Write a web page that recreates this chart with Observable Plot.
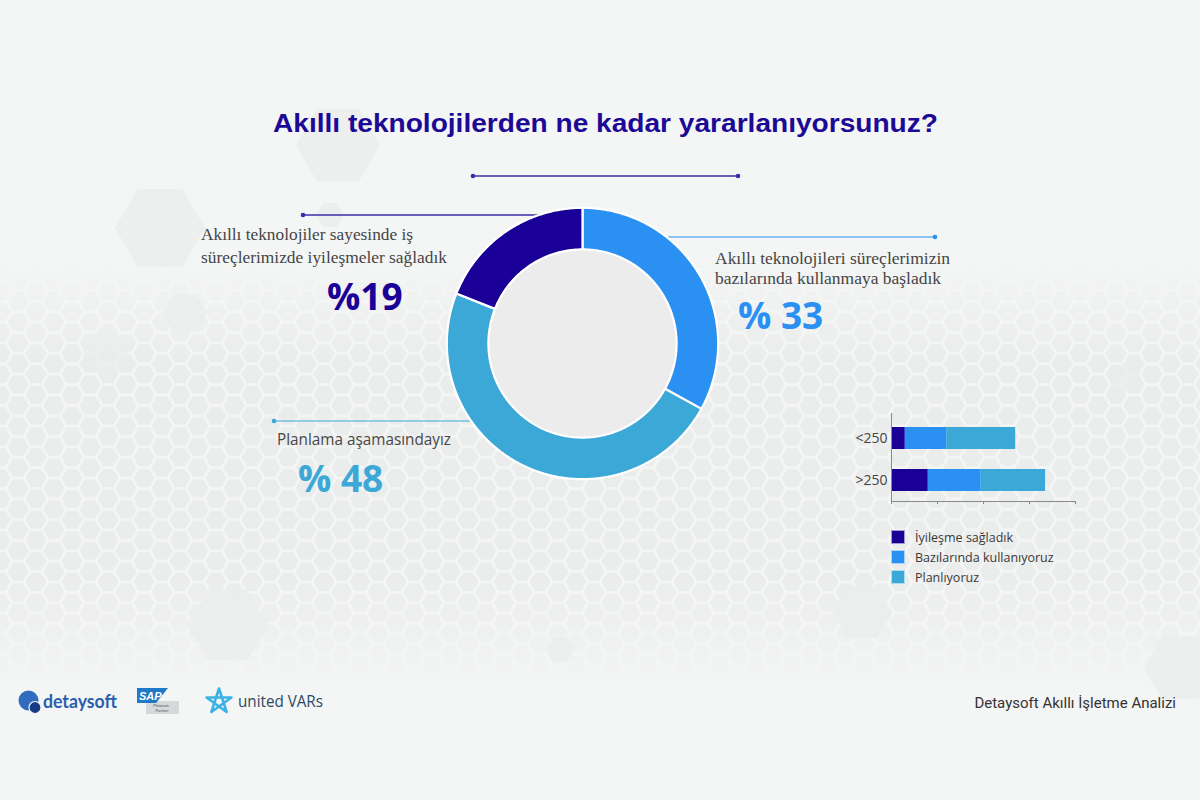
<!DOCTYPE html>
<html lang="tr">
<head>
<meta charset="utf-8">
<title>Akıllı teknolojilerden ne kadar yararlanıyorsunuz?</title>
<script src="https://cdn.jsdelivr.net/npm/d3@7"></script>
<script src="https://cdn.jsdelivr.net/npm/@observablehq/plot@0.6"></script>
<style>
  html, body { margin: 0; padding: 0; background: #f4f5f5; }
  #page { position: relative; width: 1200px; height: 800px; overflow: hidden; background: #f4f5f5; font-family: "Open Sans", sans-serif; }
  .layer { position: absolute; left: 0; top: 0; }
  #donut { position: absolute; left: 432px; top: 193px; }
  #bars { position: absolute; left: 841px; top: 405px; }
  #legend { position: absolute; left: 891px; top: 527px; font-family: "Open Sans", sans-serif; font-size: 12.5px; color: #3a3a3a; }
  #legend .row { display: flex; align-items: center; height: 20px; }
  #legend .sw { width: 14px; height: 14px; margin-right: 10px; box-sizing: border-box; border: 1px solid rgba(255,255,255,0.6); }
</style>
</head>
<body>
<div id="page">
  <svg class="layer" id="bg" width="1200" height="800"></svg>
  <div id="donut"></div>
  <div id="bars"></div>
  <div id="legend"></div>
  <svg class="layer" id="fg" width="1200" height="800"></svg>
</div>
<script>
// ---- data ----
const seriesNames = ["İyileşme sağladık", "Bazılarında kullanıyoruz", "Planlıyoruz"];
const seriesColors = ["#1a0096", "#2a90f2", "#3ba8d7"];

// overall answers (%), in the order they run clockwise round the ring
const ringSeries = ["Bazılarında kullanıyoruz", "Planlıyoruz", "İyileşme sağladık"];
const ringValues = [33, 48, 19];

// company size breakdown
const sizeGroups = ["<250", ">250"];
const improvedBySize = [6, 16];
const partialBySize = [18, 23];
const planningBySize = [30, 28];
const sizeTicks = [0, 20, 40, 60, 80];

const colorScale = { domain: seriesNames, range: seriesColors };

// ---- background: honeycomb texture, big faint cells, leader rules ----
const NS = "http://www.w3.org/2000/svg";
function el(parent, tag, attrs, text) {
  const e = document.createElementNS(NS, tag);
  for (const k in attrs) e.setAttribute(k, attrs[k]);
  if (text != null) e.textContent = text;
  parent.appendChild(e);
  return e;
}
function hexPoints(cx, cy, r) {
  const p = [];
  for (let i = 0; i < 6; i++) {
    const a = Math.PI / 3 * i;
    p.push((cx + r * Math.cos(a)).toFixed(2) + "," + (cy + r * Math.sin(a)).toFixed(2));
  }
  return p.join(" ");
}
const bg = document.getElementById("bg");
const defs = el(bg, "defs", {});
const R = 12, H = Math.sqrt(3) * R;
const pat = el(defs, "pattern", { id: "honey", width: 3 * R, height: H, patternUnits: "userSpaceOnUse" });
for (const [cx, cy] of [[0, 0], [3 * R, 0], [0, H], [3 * R, H], [1.5 * R, H / 2]]) {
  el(pat, "polygon", { points: hexPoints(cx, cy, R - 1.6), fill: "#e9eaea" });
}
const grad = el(defs, "linearGradient", { id: "band", x1: 0, y1: 0, x2: 0, y2: 1, gradientUnits: "objectBoundingBox" });
el(grad, "stop", { offset: "0.33", "stop-color": "#fff", "stop-opacity": 0 });
el(grad, "stop", { offset: "0.45", "stop-color": "#fff", "stop-opacity": 0.85 });
el(grad, "stop", { offset: "0.72", "stop-color": "#fff", "stop-opacity": 0.85 });
el(grad, "stop", { offset: "0.86", "stop-color": "#fff", "stop-opacity": 0 });
const mask = el(defs, "mask", { id: "bandMask" });
el(mask, "rect", { x: 0, y: 0, width: 1200, height: 800, fill: "url(#band)" });
el(bg, "rect", { x: 0, y: 0, width: 1200, height: 800, fill: "#f4f5f5" });
el(bg, "rect", { x: 0, y: 0, width: 1200, height: 800, fill: "url(#honey)", mask: "url(#bandMask)" });

const bigCells = [[338, 145, 42], [160, 228, 45], [185, 313, 22], [105, 353, 23], [330, 215, 14],
  [1125, 378, 16], [862, 612, 30], [1180, 668, 36], [228, 625, 40], [560, 650, 14]];
for (const [cx, cy, r] of bigCells) el(bg, "polygon", { points: hexPoints(cx, cy, r), fill: "#ebecec", opacity: 0.75 });

function leader(x1, x2, y, color, dotX, width) {
  el(bg, "line", { x1, x2, y1: y, y2: y, stroke: color, "stroke-width": width });
  for (const dx of dotX) el(bg, "circle", { cx: dx, cy: y, r: 2.3, fill: color });
}
leader(473, 738, 176, "#3a2da8", [473, 738], 1.4);
leader(303, 548, 215, "#3a2da8", [303], 1.4);
leader(650, 935, 237, "#2a90f2", [935], 1.2);
leader(274, 482, 421, "#3ba8d7", [274], 1.2);

// ---- ring chart ----
const ext = 150 / 135;           // data units per half-width; ring outer radius = 1
const outerR = 1.005, innerR = 0.697;
const ringData = ringSeries.map((s, i) => ({ series: s, value: ringValues[i] }));
const arcs = d3.pie().sort(null).value(d => d.value)(ringData);
const ringPoints = arcs.flatMap(a => {
  const n = Math.max(4, Math.ceil((a.endAngle - a.startAngle) / (Math.PI / 360)));
  const pts = [];
  for (let i = 0; i <= n; i++) {
    const t = a.startAngle + (a.endAngle - a.startAngle) * i / n;
    pts.push({ series: a.data.series, x: outerR * Math.sin(t), y: outerR * Math.cos(t) });
  }
  for (let i = n; i >= 0; i--) {
    const t = a.startAngle + (a.endAngle - a.startAngle) * i / n;
    pts.push({ series: a.data.series, x: innerR * Math.sin(t), y: innerR * Math.cos(t) });
  }
  pts.push({ ...pts[0] });
  return pts;
});
const pxPerUnit = 300 / (2 * ext);
const donut = Plot.plot({
  width: 300, height: 300,
  margin: 0,
  x: { domain: [-ext, ext], axis: null },
  y: { domain: [-ext, ext], axis: null },
  color: colorScale,
  style: { background: "transparent", overflow: "visible" },
  marks: [
    Plot.dot([{ x: 0, y: 0 }], { x: "x", y: "y", r: innerR * pxPerUnit, fill: "#ececec", stroke: "none" }),
    Plot.line(ringPoints, { x: "x", y: "y", z: "series", fill: "series", stroke: "#ffffff", strokeWidth: 2.2, curve: "linear" })
  ]
});
document.getElementById("donut").appendChild(donut);

// ---- company size bars ----
const bySeries = [improvedBySize, partialBySize, planningBySize];
const barRows = sizeGroups.flatMap((g, i) => seriesNames.map((s, j) => ({ group: g, series: s, value: bySeries[j][i] })));
const bars = Plot.plot({
  width: 244, height: 116,
  marginLeft: 50, marginRight: 10, marginTop: 8, marginBottom: 20,
  x: { domain: [0, 80], label: null },
  y: { domain: sizeGroups, paddingInner: 0.465, paddingOuter: 0.256, align: 0.59, label: null },
  color: colorScale,
  style: { background: "transparent", overflow: "visible", fontFamily: "Open Sans, sans-serif", fontSize: "14px", color: "#444" },
  marks: [
    Plot.barX(barRows, Plot.stackX({ x: "value", y: "group", fill: "series" })),
    Plot.ruleX([0], { stroke: "#8a8a8a", strokeWidth: 1 }),
    Plot.frame({ anchor: "bottom", stroke: "#8a8a8a" }),
    Plot.axisX({ ticks: sizeTicks, tickSize: 3, tickFormat: () => "", stroke: "#8a8a8a", label: null }),
    Plot.axisY({ tickSize: 0, tickPadding: 4, fontSize: 14, fill: "#444", label: null })
  ]
});
document.getElementById("bars").appendChild(bars);

// legend
const legend = document.getElementById("legend");
seriesNames.forEach((s, i) => {
  const row = document.createElement("div");
  row.className = "row";
  const sw = document.createElement("div");
  sw.className = "sw";
  sw.style.background = seriesColors[i];
  const t = document.createElement("span");
  t.textContent = s;
  row.appendChild(sw); row.appendChild(t);
  legend.appendChild(row);
});

// ---- text and logos ----
const fg = document.getElementById("fg");
el(fg, "text", { x: 273, y: 132, "font-family": "Liberation Sans, Arial, sans-serif", "font-weight": "bold", "font-size": 25,
  fill: "#1c0a96", textLength: 665, lengthAdjust: "spacingAndGlyphs" }, "Akıllı teknolojilerden ne kadar yararlanıyorsunuz?");

const serif = "Liberation Serif, Times New Roman, serif";
el(fg, "text", { x: 201, y: 240, "font-family": serif, "font-size": 16.5, fill: "#454545", textLength: 212, lengthAdjust: "spacingAndGlyphs" }, "Akıllı teknolojiler sayesinde iş");
el(fg, "text", { x: 201, y: 263, "font-family": serif, "font-size": 16.5, fill: "#454545", textLength: 246, lengthAdjust: "spacingAndGlyphs" }, "süreçlerimizde iyileşmeler sağladık");
el(fg, "text", { x: 715, y: 263.5, "font-family": serif, "font-size": 17, fill: "#454545", textLength: 235, lengthAdjust: "spacingAndGlyphs" }, "Akıllı teknolojileri süreçlerimizin");
el(fg, "text", { x: 715, y: 283.5, "font-family": serif, "font-size": 17, fill: "#454545", textLength: 226, lengthAdjust: "spacingAndGlyphs" }, "bazılarında kullanmaya başladık");
el(fg, "text", { x: 277, y: 445, "font-family": "Open Sans, sans-serif", "font-size": 15.5, fill: "#474747", textLength: 174, lengthAdjust: "spacingAndGlyphs" }, "Planlama aşamasındayız");

const valueOf = s => ringValues[ringSeries.indexOf(s)];
const big = { "font-family": "Open Sans, sans-serif", "font-weight": "bold", "font-size": 37 };
el(fg, "text", { ...big, x: 327, y: 310, fill: seriesColors[0] }, "%" + valueOf(seriesNames[0]));
el(fg, "text", { ...big, x: 738, y: 329, fill: seriesColors[1] }, "% " + valueOf(seriesNames[1]));
el(fg, "text", { ...big, x: 298, y: 491.5, fill: seriesColors[2] }, "% " + valueOf(seriesNames[2]));

el(fg, "text", { x: 1176, y: 707.5, "text-anchor": "end", "font-family": "Roboto, sans-serif", "font-size": 15, fill: "#333" }, "Detaysoft Akıllı İşletme Analizi");

// detaysoft
el(fg, "circle", { cx: 28.5, cy: 700.5, r: 10, fill: "#2f6cbf" });
el(fg, "circle", { cx: 35, cy: 707.5, r: 6, fill: "#173b86", stroke: "#f4f5f5", "stroke-width": 1.2 });
el(fg, "text", { x: 43, y: 708, "font-family": "Lato, sans-serif", "font-weight": "bold", "font-size": 18, fill: "#2a5eae", textLength: 74, lengthAdjust: "spacingAndGlyphs" }, "detaysoft");
// SAP partner badge
el(fg, "polygon", { points: "146,701 179,701 179,714 146,714", fill: "#d6d8da" });
el(fg, "polygon", { points: "137,688 168,688 156,703 137,703", fill: "#1f78c8" });
el(fg, "text", { x: 139, y: 700, "font-family": "Liberation Sans, Arial, sans-serif", "font-weight": "bold", "font-size": 11, fill: "#fff", "font-style": "italic" }, "SAP");
el(fg, "text", { x: 161, y: 707, "text-anchor": "middle", "font-family": "Liberation Sans, Arial, sans-serif", "font-size": 4, fill: "#555" }, "Platinum");
el(fg, "text", { x: 162, y: 712, "text-anchor": "middle", "font-family": "Liberation Sans, Arial, sans-serif", "font-size": 4, fill: "#555" }, "Partner");
// united VARs
const star = [];
for (let i = 0; i < 5; i++) {
  const a = -Math.PI / 2 + i * 4 * Math.PI / 5;
  star.push((219 + 13 * Math.cos(a)).toFixed(1) + "," + (701.5 + 13 * Math.sin(a)).toFixed(1));
}
el(fg, "polygon", { points: star.join(" "), fill: "none", stroke: "#3ab2e5", "stroke-width": 2.6, "stroke-linejoin": "round" });
el(fg, "text", { x: 238, y: 707, "font-family": "Open Sans, sans-serif", "font-size": 17, fill: "#2c4862", textLength: 85, lengthAdjust: "spacingAndGlyphs" }, "united VARs");
</script>
</body>
</html>
